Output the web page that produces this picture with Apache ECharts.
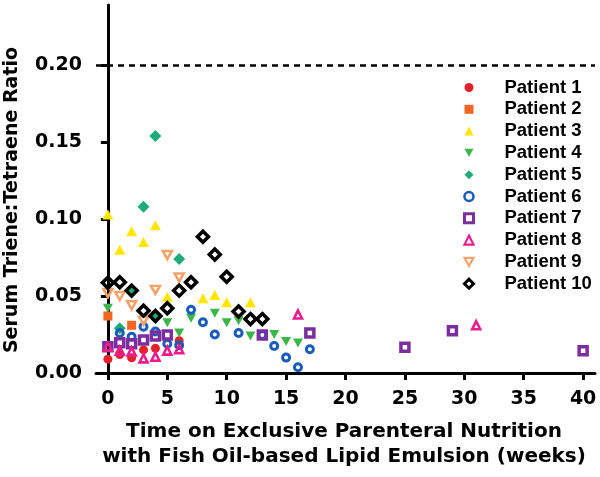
<!DOCTYPE html>
<html>
<head>
<meta charset="utf-8">
<script src="https://cdn.jsdelivr.net/npm/echarts@6/dist/echarts.min.js"></script>
<style>html,body{margin:0;padding:0;background:#fff}#c{width:600px;height:477px}</style>
</head>
<body>
<div id="c"></div>
<script>
const patientNames = ['Patient 1','Patient 2','Patient 3','Patient 4','Patient 5','Patient 6','Patient 7','Patient 8','Patient 9','Patient 10'];
const xTicks = [0,5,10,15,20,25,30,35,40];
const yTicks = [0,0.05,0.10,0.15,0.20];
const thresholdValue = 0.20;

const weeksP1 = [0,1,2,3,4,6];
const ratioP1 = [0.009,0.012,0.0099,0.015,0.016,0.021];
const weeksP2 = [0,2];
const ratioP2 = [0.037,0.031];
const weeksP3 = [0,1,2,3,4,5,8,9,10,12];
const ratioP3 = [0.103,0.080,0.092,0.085,0.096,0.0495,0.0485,0.0506,0.046,0.046];
const weeksP4 = [0,5,6,7,9,10,11,12,14,15,16];
const ratioP4 = [0.042,0.0327,0.026,0.0355,0.0388,0.0327,0.034,0.024,0.025,0.0205,0.0195];
const weeksP5 = [1,2,3,4,4,6];
const ratioP5 = [0.029,0.0535,0.108,0.154,0.036,0.074];
const weeksP6 = [1,2,3,4,5,6,7,8,9,11,13,14,15,16,17];
const ratioP6 = [0.026,0.0236,0.030,0.027,0.019,0.018,0.041,0.033,0.025,0.026,0.0247,0.0175,0.010,0.0037,0.0154];
const weeksP7 = [0,1,2,3,4,5,13,17,25,29,40];
const ratioP7 = [0.017,0.0197,0.019,0.0214,0.024,0.0247,0.0247,0.026,0.0167,0.0275,0.0145];
const weeksP8 = [0,1,2,3,4,5,6,16,31];
const ratioP8 = [0.017,0.0145,0.014,0.0095,0.0106,0.0145,0.0154,0.038,0.031];
const weeksP9 = [0,1,2,3,4,5,6];
const ratioP9 = [0.052,0.050,0.044,0.034,0.054,0.0766,0.062];
const weeksP10 = [0,1,2,3,4,5,6,7,8,9,10,11,12,13];
const ratioP10 = [0.0586,0.059,0.0535,0.0405,0.037,0.042,0.0535,0.059,0.0885,0.077,0.0625,0.040,0.035,0.035];

const weeksAll = [weeksP1,weeksP2,weeksP3,weeksP4,weeksP5,weeksP6,weeksP7,weeksP8,weeksP9,weeksP10];
const ratioAll = [ratioP1,ratioP2,ratioP3,ratioP4,ratioP5,ratioP6,ratioP7,ratioP8,ratioP9,ratioP10];

const downTri = 'path://M0,0L10,0L5,9Z';
const styles = [
  {symbol:'circle', size:9, item:{color:'#E8202A'}},
  {symbol:'rect', size:9, item:{color:'#F26522'}},
  {symbol:'triangle', size:[11,10], item:{color:'#FFE600'}},
  {symbol:downTri, size:[10,9], item:{color:'#3DB54A'}},
  {symbol:'diamond', size:12, item:{color:'#1EAB78'}},
  {symbol:'circle', size:7, item:{color:'rgba(0,0,0,0)', borderColor:'#1A5CB8', borderWidth:3}},
  {symbol:'rect', size:8, item:{color:'rgba(0,0,0,0)', borderColor:'#7B2F9E', borderWidth:3.5}},
  {symbol:'triangle', size:[8,8], item:{color:'rgba(0,0,0,0)', borderColor:'#EC1C8C', borderWidth:2.6}},
  {symbol:downTri, size:[9,8], item:{color:'rgba(0,0,0,0)', borderColor:'#F2A46C', borderWidth:2.6}},
  {symbol:'diamond', size:11, item:{color:'rgba(0,0,0,0)', borderColor:'#000000', borderWidth:3.5}}
];

const series = patientNames.map((name, i) => {
  const s = {
    name: name,
    type: 'scatter',
    symbol: styles[i].symbol,
    symbolSize: styles[i].size,
    itemStyle: Object.assign({opacity: 1}, styles[i].item),
    data: weeksAll[i].map((w, k) => [w, ratioAll[i][k]]),
    emphasis: {disabled: true}
  };
  if (i === 0) {
    s.markLine = {
      silent: true,
      symbol: 'none',
      label: {show: false},
      lineStyle: {color: '#000', type: [6,5], width: 2.5, opacity: 1},
      data: [{yAxis: thresholdValue}]
    };
  }
  return s;
});

const legendData = patientNames.map((name, i) => {
  const it = styles[i].item;
  if (it.borderWidth) {
    return {name: name, itemStyle: {color: 'rgba(0,0,0,0)', borderColor: it.borderColor, borderWidth: it.borderWidth * 0.85}};
  }
  return {name: name};
});

const chart = echarts.init(document.getElementById('c'), null, {renderer:'canvas'});
const tickFont = {fontFamily:'DejaVu Sans', fontWeight:'bold', fontSize:19, color:'#000'};
chart.setOption({
  animation: false,
  grid: {left: 96, top: 5, width: 499, height: 368, containLabel: false},
  xAxis: {
    type: 'value', min: -1, max: 41,
    splitLine: {show: false},
    axisLine: {lineStyle: {color:'#000', width: 3}},
    axisTick: {customValues: xTicks, length: 7, lineStyle: {color:'#000', width: 3}},
    axisLabel: Object.assign({customValues: xTicks, margin: 17}, tickFont)
  },
  yAxis: {
    type: 'value', min: 0, max: 0.239,
    splitLine: {show: false},
    axisLine: {show: true, lineStyle: {color:'#000', width: 3}},
    axisTick: {show: true, customValues: yTicks, length: 7, lineStyle: {color:'#000', width: 3}},
    axisLabel: Object.assign({customValues: yTicks, margin: 14, formatter: v => v.toFixed(2)}, tickFont)
  },
  legend: {
    orient: 'vertical',
    left: 458, top: 73,
    itemWidth: 9, itemHeight: 9, itemGap: 2.8,
    data: legendData,
    textStyle: {fontFamily:'Liberation Sans', fontWeight:'bold', fontSize:18.5, color:'#000', lineHeight:18, padding:[0,0,0,26]}
  },
  graphic: [
    {type:'text', x: 344, y: 444.5, style: {text:'Time on Exclusive Parenteral Nutrition\nwith Fish Oil-based Lipid Emulsion (weeks)', fontFamily:'DejaVu Sans', fontWeight:'bold', fontSize:20, lineHeight:25, fill:'#000', align:'center', verticalAlign:'middle'}},
    {type:'text', x: 12, y: 200, rotation: Math.PI/2, style: {text:'Serum Triene:Tetraene Ratio', fontFamily:'DejaVu Sans', fontWeight:'bold', fontSize:19, fill:'#000', align:'center', verticalAlign:'middle'}}
  ],
  series: series
});
</script>
</body>
</html>
